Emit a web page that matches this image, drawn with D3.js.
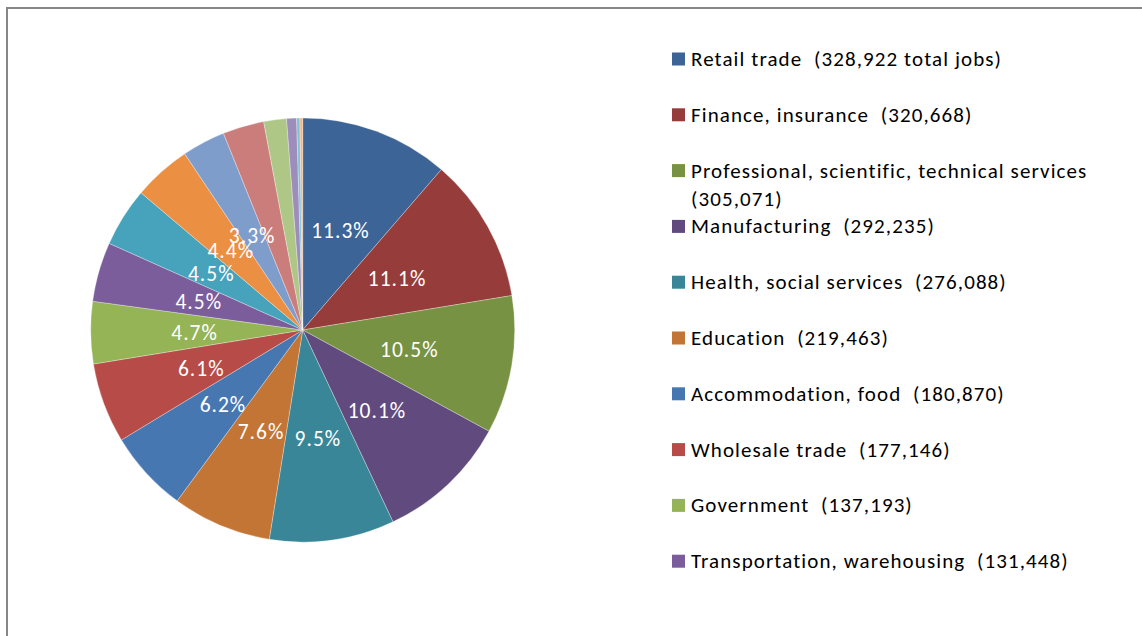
<!DOCTYPE html>
<html>
<head>
<meta charset="utf-8">
<script src="https://cdn.jsdelivr.net/npm/d3@7"></script>
<style>
  html, body { margin: 0; padding: 0; background: #fff; }
  svg { display: block; }
  text { font-family: Carlito, Calibri, Lato, sans-serif; white-space: pre; }
</style>
</head>
<body>
<div id="chart"></div>
<script>
// industries (only the first 10 show in the legend, the rest are unnamed small slices)
const categories = [
  'Retail trade', 'Finance, insurance', 'Professional, scientific, technical services',
  'Manufacturing', 'Health, social services', 'Education', 'Accommodation, food',
  'Wholesale trade', 'Government', 'Transportation, warehousing',
  'Other 1', 'Other 2', 'Other 3', 'Other 4', 'Other 5', 'Other 6', 'Other 7', 'Other 8'
];
const jobs = [
  328922, 320668, 305071, 292235, 276088, 219463, 180870, 177146, 137193, 131448,
  130500, 127800, 95600, 91350, 50170, 22040, 7250, 6000
];
const legendLabels = [
  'Retail trade  (328,922 total jobs)', 'Finance, insurance  (320,668)',
  'Professional, scientific, technical services  (305,071)', 'Manufacturing  (292,235)',
  'Health, social services  (276,088)', 'Education  (219,463)',
  'Accommodation, food  (180,870)', 'Wholesale trade  (177,146)',
  'Government  (137,193)', 'Transportation, warehousing  (131,448)'
];
const colors = [
  '#3c6496', '#963c3a', '#779242', '#614b7e', '#388698', '#c27535',
  '#4777b1', '#b64b48', '#94b455', '#7b5d9c', '#47a2bc', '#eb8f42',
  '#7f9dcb', '#cb7d7c', '#afc786', '#9d8dba', '#7fc4d6', '#f7b381'
];

const width = 1142, height = 636;
const cx = 302.7, cy = 330, radius = 212;

const svg = d3.select('#chart').append('svg')
  .attr('width', width)
  .attr('height', height);

// chart frame (runs off the right and bottom)
svg.append('rect')
  .attr('x', 7).attr('y', 8)
  .attr('width', 1300).attr('height', 800)
  .attr('fill', 'none')
  .attr('stroke', '#878787')
  .attr('stroke-width', 2);

const total = d3.sum(jobs);
const pie = d3.pie().sort(null).value(d => d);
const arcs = pie(jobs);
const arc = d3.arc().innerRadius(0).outerRadius(radius);
const labelArc = d3.arc().innerRadius(radius * 0.51).outerRadius(radius * 0.51);

const g = svg.append('g').attr('transform', `translate(${cx},${cy})`);

g.selectAll('path')
  .data(arcs)
  .join('path')
  .attr('d', arc)
  .attr('fill', (d, i) => colors[i])
  .attr('stroke', '#ffffff')
  .attr('stroke-opacity', 0.5)
  .attr('stroke-width', 0.6);

// percentage labels, the small slices have none
g.selectAll('text.pct')
  .data(arcs.filter(d => d.value / total >= 0.0325))
  .join('text')
  .attr('class', 'pct')
  .attr('transform', d => `translate(${labelArc.centroid(d)})`)
  .attr('dy', 2)
  .attr('text-anchor', 'middle')
  .attr('dominant-baseline', 'central')
  .attr('fill', '#fff')
  .style('font-size', '21.5px')
  .style('letter-spacing', '1px')
  .text(d => (d.value / total * 100).toFixed(1) + '%');

// legend
const legendX = 672, legendY0 = 59, legendStep = 55.8, maxW = 420;
const legend = svg.append('g');
legendLabels.forEach((lab, i) => {
  const y = legendY0 + i * legendStep;
  legend.append('rect')
    .attr('x', legendX).attr('y', y - 6.5)
    .attr('width', 13).attr('height', 13)
    .attr('fill', colors[i]);
  const t = legend.append('text')
    .attr('x', legendX + 19)
    .attr('y', y)
    .attr('dominant-baseline', 'central')
    .attr('fill', '#000')
    .style('font-size', '21px')
    .style('letter-spacing', '1.1px');
  // simple word wrap
  const words = lab.split(' ');
  let line = [];
  let ts = t.append('tspan').attr('x', legendX + 19).attr('dy', 0);
  words.forEach(w => {
    line.push(w);
    ts.text(line.join(' '));
    if (ts.node().getComputedTextLength() > maxW && line.length > 1) {
      line.pop();
      ts.text(line.join(' ').trim());
      line = [w];
      ts = t.append('tspan').attr('x', legendX + 19).attr('dy', 28).text(w);
    }
  });
});
</script>
</body>
</html>
